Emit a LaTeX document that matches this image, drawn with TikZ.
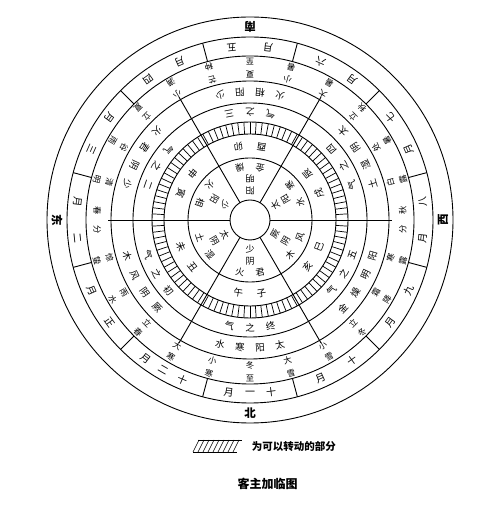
\documentclass[tikz,border=0pt]{standalone}
\usepackage{fontspec}
\setmainfont{Noto Sans CJK SC}

\begin{document}
\begin{tikzpicture}[
	x=1pt, y=1pt,
	line width=0.9pt,
	glyph/.style={inner sep=0pt, font=\fontsize{9.5}{9.5}\selectfont},
	inner/.style={inner sep=0pt, font=\fontsize{9}{9}\selectfont},
	term/.style={inner sep=0pt, font=\fontsize{8.3}{8.3}\selectfont},
	month/.style={inner sep=0pt, font=\fontsize{10}{10}\selectfont},
	quarter/.style={inner sep=0pt, font=\bfseries\fontsize{11.5}{11.5}\selectfont}
	]
	\useasboundingbox (0,0) rectangle (500,506);
	\coordinate (c) at (250,286);
	\foreach \rad in {20,62,86,98,117,139,164,183,203}
		\draw (c) circle (\rad);
	\begin{scope}[shift={(c)}]
	\foreach \i in {0,...,99}
		\draw[line width=0.7pt] ({3.6*\i}:86) -- ({3.6*\i}:98);
	\foreach \a in {15,45,...,345}
		\draw (\a:164) -- (\a:183);
	\foreach \a in {0,60,...,300}
		\draw (\a:20) -- (\a:142);
	\foreach \a/\t [count=\i] in {90/南, 0/西, -90/北, 180/东}
		\node[quarter, rotate=\a+90] (dir-\i) at (\a:193) {\t};
	\foreach \a/\ca [count=\i] in {90/五, 60/六, 30/七, 0/八, -30/九, -60/十, -150/正, 180/二, 150/三, 120/四} {
		\node[month, rotate=\a+96] (mon-\i-a) at ({\a+6}:173.5) {\ca};
		\node[month, rotate=\a+84] (mon-\i-b) at ({\a-6}:173.5) {月};
	}
	\foreach \a/\cb [count=\i] in {-90/一, -120/二} {
		\node[month, rotate=\a+97] (mon2-\i-a) at ({\a+7}:173.5) {十};
		\node[month, rotate=\a+90] (mon2-\i-b) at (\a:173.5) {\cb};
		\node[month, rotate=\a+83] (mon2-\i-c) at ({\a-7}:173.5) {月};
	}
	\foreach \a/\ca/\cb [count=\i] in {90/夏/至, 75/小/暑, 60/大/暑, 45/立/秋, 30/处/暑, 15/白/露, -15/寒/露, -30/霜/降, -45/立/冬, -60/小/雪, -75/大/雪, -90/冬/至, -105/小/寒, -120/大/寒, -135/立/春, -150/雨/水, -165/惊/蛰, 165/清/明, 150/谷/雨, 135/立/夏, 120/小/满, 105/芒/种} {
		\node[term, rotate=\a+90] (jq-\i-a) at (\a:145.5) {\ca};
		\node[term, rotate=\a+90] (jq-\i-b) at (\a:158.5) {\cb};
	}
	\foreach \a/\s/\ca [count=\i] in {0/1/秋, 180/-1/春} {
		\node[term, rotate=\a+90] (fen-\i-a) at ({\a+3.6*\s}:153) {\ca};
		\node[term, rotate=\a+90] (fen-\i-b) at ({\a-3.6*\s}:153) {分};
	}
	\foreach \a/\ca/\cb/\cc/\cd [count=\i] in {210/厥/阴/风/木, 150/少/阴/君/火, 90/少/阳/相/火, 30/太/阴/湿/土, -30/阳/明/燥/金, -90/太/阳/寒/水} {
		\node[glyph, rotate=\a+103.5] (zq-\i-a) at ({\a+13.5}:128) {\ca};
		\node[glyph, rotate=\a+94.5] (zq-\i-b) at ({\a+4.5}:128) {\cb};
		\node[glyph, rotate=\a+85.5] (zq-\i-c) at ({\a-4.5}:128) {\cc};
		\node[glyph, rotate=\a+76.5] (zq-\i-d) at ({\a-13.5}:128) {\cd};
	}
	\foreach \a/\ca [count=\i] in {210/初, 150/二, 90/三, 30/四, -30/五, -90/终} {
		\node[glyph, rotate=\a+101] (bu-\i-a) at ({\a+11}:108) {\ca};
		\node[glyph, rotate=\a+90] (bu-\i-b) at (\a:108) {之};
		\node[glyph, rotate=\a+79] (bu-\i-c) at ({\a-11}:108) {气};
	}
	\foreach \a/\ca/\cb [count=\i] in {90/卯/酉, 30/辰/戌, -30/巳/亥, -90/子/午, 210/丑/未, 150/寅/申} {
		\node[glyph, rotate=\a+99] (zhi-\i-a) at ({\a+9}:74) {\ca};
		\node[glyph, rotate=\a+81] (zhi-\i-b) at ({\a-9}:74) {\cb};
	}
	\foreach \a/\ca/\cb/\cc/\cd [count=\i] in {90/阳/明/燥/金, 30/太/阳/寒/水, -30/厥/阴/风/木, -90/少/阴/君/火, 210/太/阴/湿/土, 150/少/阳/相/火} {
		\node[inner, rotate=\a+90] (kq-\i-a) at (\a:29) {\ca};
		\node[inner, rotate=\a+90] (kq-\i-b) at (\a:41) {\cb};
		\node[inner, rotate=\a+101] (kq-\i-c) at ({\a+11}:53) {\cc};
		\node[inner, rotate=\a+79] (kq-\i-d) at ({\a-11}:53) {\cd};
	}
	\end{scope}
	\coordinate (lg) at (193,54);
	\draw[line width=0.6pt] (lg) -- ++(44,0) (lg) ++(5,12) -- ++(44,0);
	\foreach \x in {0,5,...,40}
		\draw[line width=0.6pt] (lg) ++(\x,0) -- ++(6,12);
	\node[
	font=\bfseries\fontsize{10.5}{10.5}\selectfont,
	anchor=west
	] (legend) at (248,59) {为可以转动的部分};
	\node[
	font=\bfseries\fontsize{12}{12}\selectfont
	] (title) at (267.5,22) {客主加临图};
\end{tikzpicture}
\end{document}
